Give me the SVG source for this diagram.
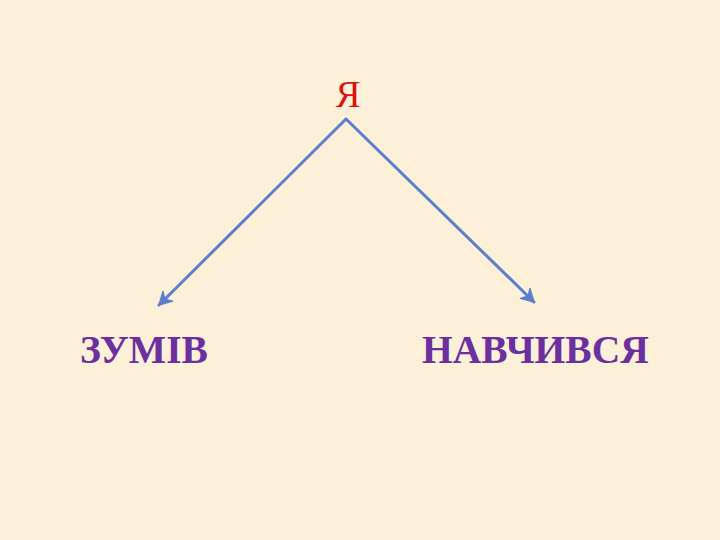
<svg xmlns="http://www.w3.org/2000/svg" width="720" height="540" viewBox="0 0 720 540">
  <style>
    .lbl { font-family: "Liberation Serif", "Times New Roman", serif; font-weight: bold; font-size: 39.5px; fill: #6b2fa0; }
    .top { font-family: "Liberation Serif", "Times New Roman", serif; font-size: 37px; fill: #e01010; }
    .conn { stroke: #5b7fcc; stroke-width: 3; fill: none; stroke-linecap: round; }
  </style>
  <defs>
    <marker id="arr" viewBox="0 0 12 12" refX="10" refY="6" markerWidth="5.5" markerHeight="5.5" orient="auto" markerUnits="strokeWidth">
      <path d="M1,1 L10,6 L1,11 L4,6 Z" fill="#5b7fcc" stroke="#5b7fcc" stroke-width="1" stroke-linejoin="round"/>
    </marker>
  </defs>
  <rect width="720" height="540" fill="#fcf0d8"/>
  <g id="connectors">
    <line class="conn" x1="346" y1="119" x2="159" y2="305" marker-end="url(#arr)"/>
    <line class="conn" x1="346" y1="119" x2="534" y2="302" marker-end="url(#arr)"/>
  </g>
  <g id="node-ya">
    <text class="top" x="348" y="107" text-anchor="middle">Я</text>
  </g>
  <g id="node-zumiv">
    <text class="lbl" x="80" y="363">ЗУМІВ</text>
  </g>
  <g id="node-navchyvsia">
    <text class="lbl" x="422" y="363">НАВЧИВСЯ</text>
  </g>
</svg>
